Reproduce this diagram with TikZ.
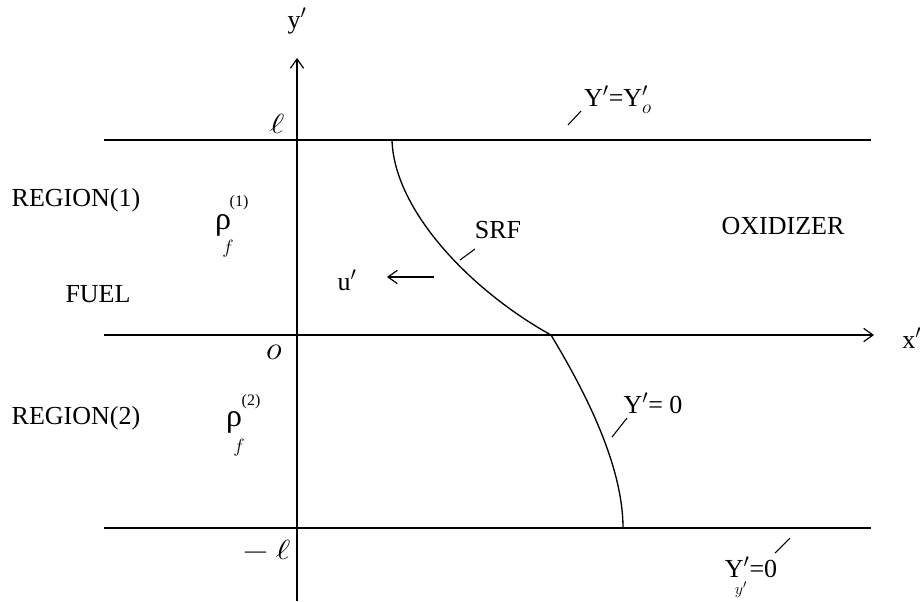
\documentclass[tikz,border=0pt]{standalone}
\usepackage{fontspec}
\setmainfont{Liberation Serif}
\usetikzlibrary{arrows.meta}
\newcommand{\prm}{$'$}
\begin{document}
\begin{tikzpicture}[x=0.75pt,y=-0.75pt,
  lbl/.style={inner sep=0pt,font=\fontsize{19.5}{22}\selectfont},
  hand/.style={inner sep=0pt,font=\fontsize{20}{20}\selectfont,xscale=1.3},
  rhostyle/.style={inner sep=0pt,font=\fontsize{24}{24}\selectfont},
  supstyle/.style={inner sep=0pt,font=\fontsize{12}{12}\selectfont},
  substyle/.style={inner sep=0pt,font=\fontsize{14}{14}\selectfont},
  heavy/.style={line width=1.3pt},
  medium/.style={line width=1.0pt},
  leader/.style={line width=0.8pt},
  tip/.style={-{Straight Barb[length=7pt,width=10pt,line width=0.9pt]}}]
\useasboundingbox (0,0) rectangle (920,601);
% axes and boundaries
\coordinate (xL) at (104,335); \coordinate (xR) at (874,335);
\coordinate (yB) at (297,601); \coordinate (yT) at (297,58);
\coordinate (tL) at (104,140); \coordinate (tR) at (871,140);
\coordinate (bL) at (104,528); \coordinate (bR) at (871,528);
\draw[heavy] (tL) -- (tR);
\draw[heavy] (bL) -- (bR);
\draw[heavy,tip] (xL) -- (xR);
\draw[medium,tip] (yB) -- (yT);
% SRF / Y'=0 curve
\coordinate (c0) at (392,140);
\coordinate (c1) at (551,335);
\coordinate (c2) at (623,528);
\draw[medium] (c0) .. controls (394,210) and (470,290) .. (c1)
              .. controls (578,380) and (623,460) .. (c2);
% axis labels
\node[lbl] (ylab) at (297,21) {y\prm};
\node[lbl,anchor=west] (xlab) at (902,338) {x\prm};
\node[hand] (ell) at (277,124) {$\ell$};
\node[inner sep=0pt,font=\fontsize{24}{24}\selectfont] (zero) at (274,352) {$o$};
\node[hand] (mell) at (266,551) {$-\,\ell$};
% region labels
\node[lbl] (reg1) at (76,200) {REGION(1)};
\node[lbl] (fuel) at (98,294) {FUEL};
\node[lbl] (reg2) at (76,418) {REGION(2)};
\node[lbl] (oxi) at (783,226) {OXIDIZER};
% densities
\node[rhostyle] (rho1) at (223,225) {ρ};
\node[supstyle] (sup1) at (239,203) {(1)};
\node[substyle] (f1) at (228,249) {$f$};
\node[rhostyle] (rho2) at (234,422) {ρ};
\node[supstyle] (sup2) at (251,402) {(2)};
\node[substyle] (f2) at (239,448) {$f$};
% velocity
\node[lbl] (u) at (347,280) {u\prm};
\coordinate (uA) at (434,277); \coordinate (uB) at (387,277);
\draw[leader,tip] (uA) -- (uB);
% SRF label
\node[lbl] (srf) at (498,230) {SRF};
\coordinate (s1) at (475,249); \coordinate (s2) at (460,260);
\draw[leader] (s1) -- (s2);
% Y'=Y'o label
\node[lbl] (yo) at (618,100) {Y\prm=Y$'_{o}$};
\coordinate (o1) at (581,111); \coordinate (o2) at (568,125);
\draw[leader] (o1) -- (o2);
% Y'=0 middle
\node[lbl] (y0m) at (653,403) {Y\prm= 0};
\coordinate (m1) at (627,418); \coordinate (m2) at (612,437);
\draw[leader] (m1) -- (m2);
% Y'=0 bottom
\node[lbl] (y0b) at (751,567) {Y\prm=0};
\node[inner sep=0pt,font=\fontsize{13}{13}\selectfont] (yb) at (741,590) {$y'$};
\coordinate (b1) at (790,538); \coordinate (b2) at (775,553);
\draw[leader] (b1) -- (b2);
\end{tikzpicture}
\end{document}
